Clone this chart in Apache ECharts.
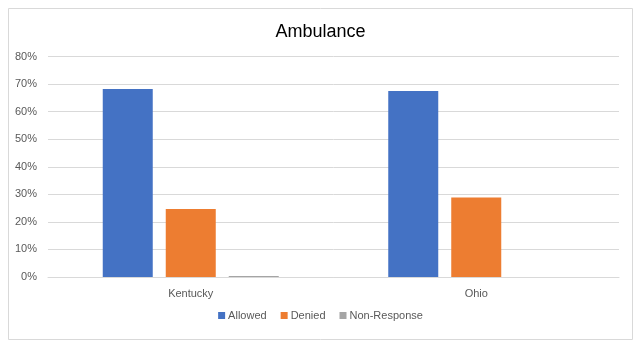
<!DOCTYPE html>
<html>
<head>
<meta charset="utf-8">
<script src="https://cdn.jsdelivr.net/npm/echarts@6/dist/echarts.min.js"></script>
<style>
  html, body { margin: 0; padding: 0; background: #fff; }
  #chart { width: 641px; height: 348px; }
</style>
</head>
<body>
<div id="chart"></div>
<script>
// Share of ambulance requests by outcome, per state (fractions of 1)
const categories = ['Kentucky', 'Ohio'];
const allowed = [0.682, 0.675];
const denied = [0.247, 0.288];
const nonResponse = [0.004, 0];
const seriesNames = ['Allowed', 'Denied', 'Non-Response'];
const yTicks = [0, 0.1, 0.2, 0.3, 0.4, 0.5, 0.6, 0.7, 0.8];

const FONT = '"Liberation Sans", Arial, sans-serif';
const colors = ['#4472C4', '#ED7D31', '#A5A5A5'];

const chart = echarts.init(document.getElementById('chart'), null, { renderer: 'canvas' });

const barSeries = [allowed, denied, nonResponse].map((vals, i) => ({
  name: seriesNames[i],
  type: 'bar',
  data: vals,
  barWidth: 50,
  barGap: '26%',
  itemStyle: { color: colors[i] },
  emphasis: { disabled: true }
}));

chart.setOption({
  animation: false,
  backgroundColor: '#fff',
  title: {
    text: 'Ambulance',
    left: 'center',
    top: 18,
    textStyle: { fontFamily: FONT, fontSize: 18, fontWeight: 'normal', color: '#000' }
  },
  graphic: [{
    type: 'rect',
    shape: { x: 8.5, y: 8.5, width: 624, height: 331 },
    style: { fill: 'none', stroke: '#D9D9D9', lineWidth: 1 },
    silent: true
  }],
  legend: {
    data: seriesNames,
    bottom: 22,
    left: 'center',
    icon: 'rect',
    itemWidth: 7,
    itemHeight: 7,
    itemGap: 14,
    textStyle: { fontFamily: FONT, fontSize: 11, color: '#595959', padding: [0, 0, 0, -2] }
  },
  grid: { left: 48, right: 22, top: 56.5, bottom: 71, containLabel: false },
  xAxis: {
    type: 'category',
    data: categories,
    axisLine: { lineStyle: { color: '#D9D9D9' } },
    axisTick: { show: false },
    axisLabel: { fontFamily: FONT, fontSize: 11, color: '#595959', margin: 11 }
  },
  yAxis: {
    type: 'value',
    min: yTicks[0],
    max: yTicks[yTicks.length - 1],
    interval: 0.1,
    axisLine: { show: false },
    axisTick: { show: false },
    splitLine: { lineStyle: { color: '#D9D9D9' } },
    axisLabel: {
      fontFamily: FONT, fontSize: 11, color: '#595959', margin: 11,
      formatter: v => Math.round(v * 100) + '%'
    }
  },
  series: barSeries
});
</script>
</body>
</html>
